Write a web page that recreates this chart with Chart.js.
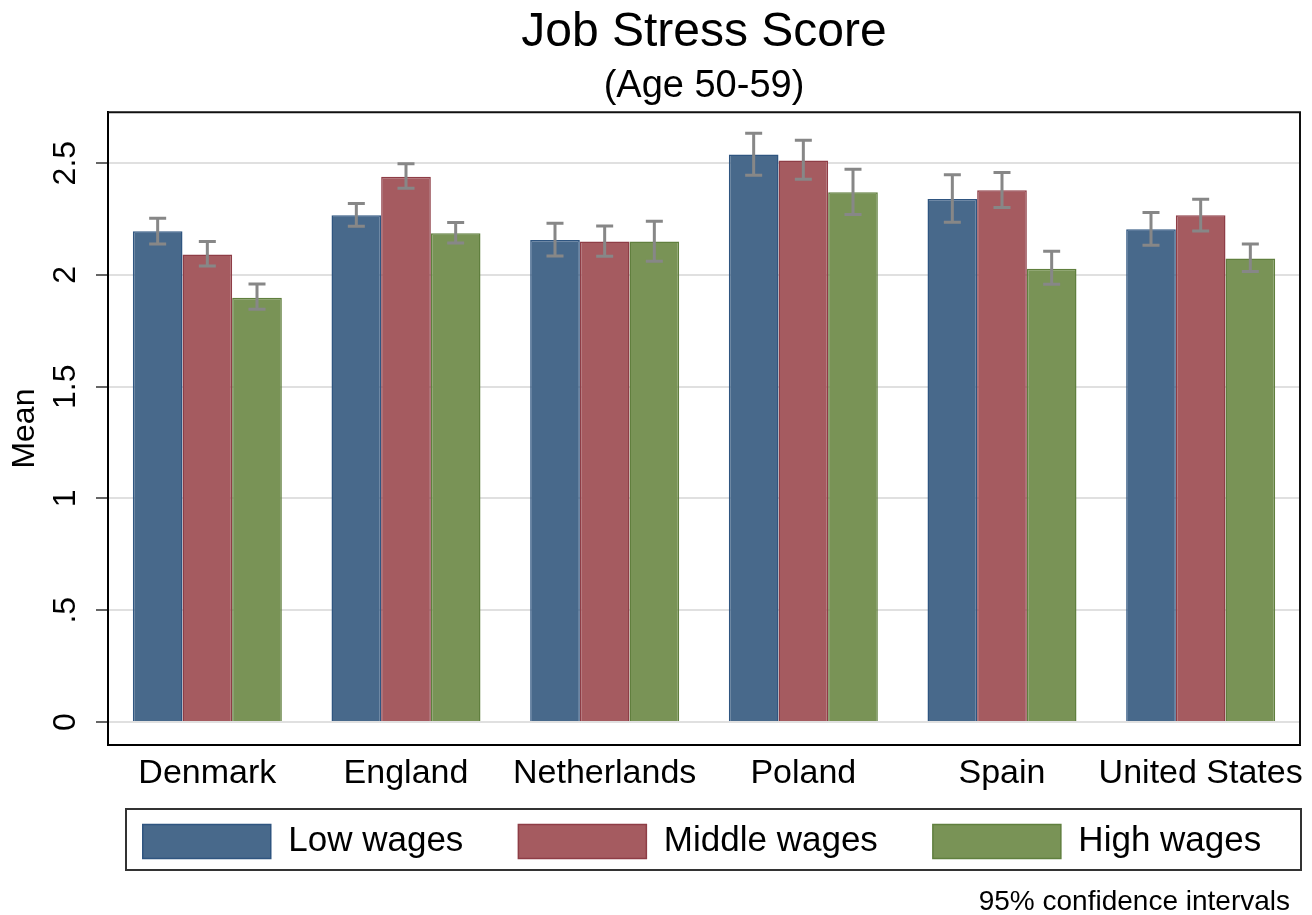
<!DOCTYPE html>
<html lang="en">
<head>
<meta charset="utf-8" />
<title>Job Stress Score</title>
<script src="https://cdn.jsdelivr.net/npm/chart.js@4.4.1/dist/chart.umd.min.js"></script>
<style>
  html, body { margin: 0; padding: 0; background: #fff; }
  canvas { display: block; }
</style>
</head>
<body>
<canvas id="c" width="1312" height="915"></canvas>
<script>
// categories and series
const countries = ['Denmark', 'England', 'Netherlands', 'Poland', 'Spain', 'United States'];
const seriesNames = ['Low wages', 'Middle wages', 'High wages'];

const lowMean  = [2.195, 2.267, 2.156, 2.539, 2.340, 2.204];
const lowLo    = [2.138, 2.218, 2.085, 2.446, 2.236, 2.133];
const lowHi    = [2.254, 2.319, 2.231, 2.634, 2.448, 2.279];

const midMean  = [2.091, 2.439, 2.149, 2.512, 2.379, 2.267];
const midLo    = [2.040, 2.388, 2.083, 2.428, 2.302, 2.197];
const midHi    = [2.149, 2.497, 2.219, 2.603, 2.458, 2.339];

const highMean = [1.898, 2.186, 2.149, 2.370, 2.028, 2.074];
const highLo   = [1.846, 2.143, 2.061, 2.270, 1.958, 2.015];
const highHi   = [1.959, 2.234, 2.240, 2.473, 2.106, 2.138];

const yTicks = [0, 0.5, 1, 1.5, 2, 2.5];

const FONT = "'Liberation Sans', Arial, sans-serif";
const fills   = ['#48698b', '#a55b60', '#799356'];
const borders = ['#2f5580', '#8e3d46', '#607f3e'];
const ciLo = [lowLo, midLo, highLo];
const ciHi = [lowHi, midHi, highHi];
const means = [lowMean, midMean, highMean];

// stata style: ".5" not "0.5"
const fmtTick = (v) => String(v).replace(/^0\./, '.');

const extras = {
  id: 'extras',
  afterLayout(chart) {
    // legend is full width for fitting, but centred under the plot like stata,
    // and pulled up a bit (its padding leaves empty room on top)
    const lg = chart.legend;
    const mid = (chart.chartArea.left + chart.chartArea.right) / 2 - 2;
    const half = (lg.right - lg.left) / 2;
    lg.left = mid - half;
    lg.right = mid + half;
    lg.top -= 33;
    lg.bottom -= 33;
  },
  afterDatasetsDraw(chart) {
    const { ctx } = chart;
    const ys = chart.scales.y;
    ctx.save();
    ctx.strokeStyle = '#878787';
    ctx.lineWidth = 3;
    ciLo.forEach((lo, di) => {
      chart.getDatasetMeta(di).data.forEach((bar, i) => {
        const x = bar.x;
        const y1 = ys.getPixelForValue(lo[i]);
        const y2 = ys.getPixelForValue(ciHi[di][i]);
        ctx.beginPath();
        ctx.moveTo(x, y1); ctx.lineTo(x, y2);
        ctx.moveTo(x - 8.5, y1); ctx.lineTo(x + 8.5, y1);
        ctx.moveTo(x - 8.5, y2); ctx.lineTo(x + 8.5, y2);
        ctx.stroke();
      });
    });
    ctx.restore();
  },
  afterDraw(chart) {
    const { ctx, chartArea: a } = chart;
    ctx.save();
    // plot frame (top + right)
    ctx.strokeStyle = '#111';
    ctx.lineWidth = 2;
    ctx.beginPath();
    ctx.moveTo(a.left, a.top); ctx.lineTo(a.right, a.top);
    ctx.lineTo(a.right, a.bottom);
    ctx.stroke();

    // legend border
    const hb = chart.legend.legendHitBoxes;
    if (hb && hb.length) {
      const top = hb[0].top - 15;
      const bot = hb[0].top + hb[0].height + 11;
      ctx.strokeStyle = '#333';
      ctx.lineWidth = 2;
      ctx.strokeRect(a.left + 18, top, a.right - a.left - 17, bot - top);
    }

    // note
    ctx.fillStyle = '#000';
    ctx.font = '28px ' + FONT;
    ctx.textAlign = 'right';
    ctx.textBaseline = 'alphabetic';
    ctx.fillText('95% confidence intervals', 1290, 910);
    ctx.restore();
  }
};

new Chart(document.getElementById('c'), {
  type: 'bar',
  data: {
    labels: countries,
    datasets: seriesNames.map((name, i) => ({
      label: name,
      data: means[i],
      backgroundColor: fills[i],
      borderColor: borders[i],
      borderWidth: 1.5,
      categoryPercentage: 0.75,
      barPercentage: 1.0
    }))
  },
  options: {
    responsive: false,
    animation: false,
    layout: { padding: { top: 0, right: 12, bottom: 13, left: 0 } },
    plugins: {
      tooltip: { enabled: false },
      title: {
        display: true, text: 'Job Stress Score', fullSize: false, color: '#000',
        font: { family: FONT, size: 48, weight: 'normal' },
        padding: { top: 4, bottom: 0 }
      },
      subtitle: {
        display: true, text: '(Age 50-59)', fullSize: false, color: '#000',
        font: { family: FONT, size: 38, weight: 'normal' },
        padding: { top: 2, bottom: 3 }
      },
      legend: {
        position: 'bottom',
        labels: {
          boxWidth: 128, boxHeight: 34, padding: 55, color: '#000',
          font: { family: FONT, size: 35 }
        }
      }
    },
    scales: {
      x: {
        afterFit: (s) => { s.height = 57; },
        grid: { display: false, drawTicks: false },
        border: { color: '#000', width: 2 },
        ticks: { color: '#000', font: { family: FONT, size: 34 }, padding: 8, maxRotation: 0, autoSkip: false }
      },
      y: {
        min: -0.103, max: 2.728,
        afterBuildTicks: (s) => { s.ticks = yTicks.map((v) => ({ value: v })); },
        afterFit: (s) => { s.width = 108; },
        grid: { color: '#e0e0e0', lineWidth: 2, tickLength: 12, tickColor: '#666', tickWidth: 2 },
        border: { color: '#000', width: 2 },
        ticks: {
          minRotation: 90, maxRotation: 90, crossAlign: 'center', padding: 8,
          color: '#000', font: { family: FONT, size: 32 },
          callback: (v) => fmtTick(v)
        },
        title: {
          display: true, text: 'Mean', color: '#000',
          font: { family: FONT, size: 32 }, padding: { top: 6, bottom: 0 }
        }
      }
    }
  },
  plugins: [extras]
});
</script>
</body>
</html>
